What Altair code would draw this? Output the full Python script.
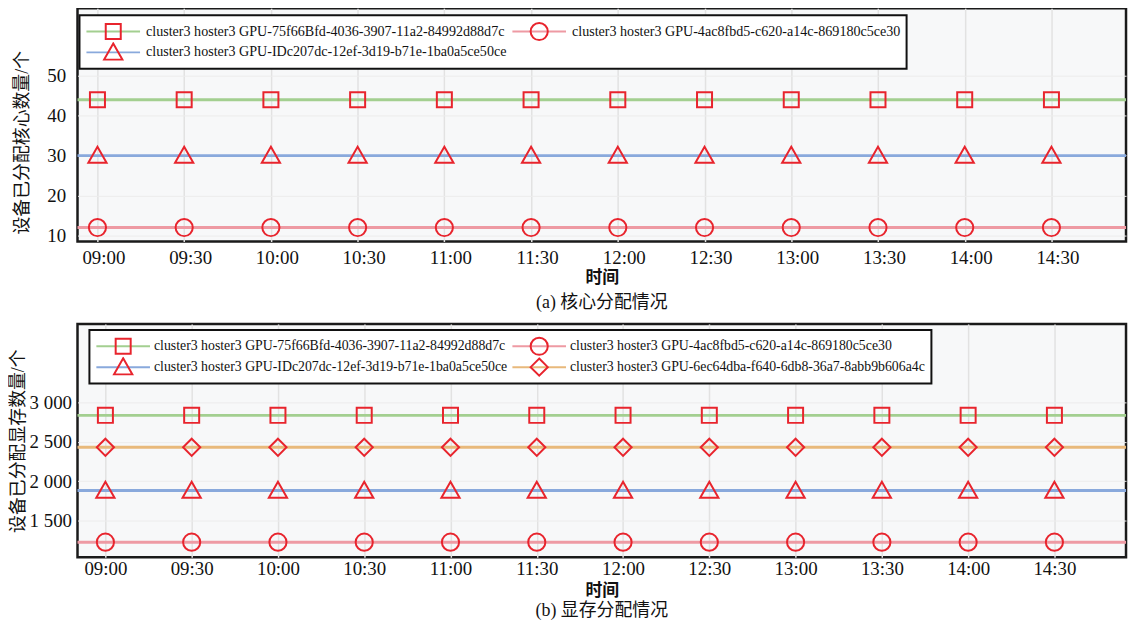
import altair as alt
import pandas as pd

# ---------------- data ----------------
times = ["09:00", "09:30", "10:00", "10:30", "11:00", "11:30",
         "12:00", "12:30", "13:00", "13:30", "14:00", "14:30"]

gpu_a = "cluster3 hoster3 GPU-75f66Bfd-4036-3907-11a2-84992d88d7c"
gpu_b = "cluster3 hoster3 GPU-4ac8fbd5-c620-a14c-869180c5ce30"
gpu_c = "cluster3 hoster3 GPU-IDc207dc-12ef-3d19-b71e-1ba0a5ce50ce"
gpu_d = "cluster3 hoster3 GPU-6ec64dba-f640-6db8-36a7-8abb9b606a4c"

# (a) cores
core_series = [gpu_a, gpu_b, gpu_c]
core_a = [44, 44, 44, 44, 44, 44, 44, 44, 44, 44, 44, 44]
core_b = [12, 12, 12, 12, 12, 12, 12, 12, 12, 12, 12, 12]
core_c = [30, 30, 30, 30, 30, 30, 30, 30, 30, 30, 30, 30]
core_ticks = [10, 20, 30, 40, 50]

# (b) memory
mem_series = [gpu_a, gpu_b, gpu_c, gpu_d]
mem_a = [2835, 2835, 2835, 2835, 2835, 2835, 2835, 2835, 2835, 2835, 2835, 2835]
mem_b = [1225, 1225, 1225, 1225, 1225, 1225, 1225, 1225, 1225, 1225, 1225, 1225]
mem_c = [1880, 1880, 1880, 1880, 1880, 1880, 1880, 1880, 1880, 1880, 1880, 1880]
mem_d = [2430, 2430, 2430, 2430, 2430, 2430, 2430, 2430, 2430, 2430, 2430, 2430]
mem_ticks = [1500, 2000, 2500, 3000]

# ---------------- styles ----------------
line_colors = {gpu_a: "#a3cf90", gpu_b: "#ee9aa3", gpu_c: "#89a9dc", gpu_d: "#e8b97b"}
marker_paths = {
    gpu_a: "M-0.28,-0.28H0.28V0.28H-0.28Z",
    gpu_b: "M-0.32,0A0.32,0.32,0,1,1,0.32,0A0.32,0.32,0,1,1,-0.32,0Z",
    gpu_c: "M0,-0.33L0.34,0.27L-0.34,0.27Z",
    gpu_d: "M0,-0.32L0.32,0L0,0.32L-0.32,0Z",
}
marker_red = "#e8242d"
SERIF = "Liberation Serif, Noto Sans CJK SC"
CJK = "Liberation Serif, Noto Sans CJK SC"
SYM = 2916

time_min = [int(t[:2]) * 60 + int(t[3:]) - 540 for t in times]
x_label_expr = ("pad(toString(9 + floor(datum.value / 60)), 2, '0', 'left') + ':' + "
                "pad(toString(datum.value % 60), 2, '0', 'left')")


def panel(series, values, y_domain, y_ticks, y_title, y_label_expr, x_domain,
          width, height, caption, caption_offset, legend_xy, legend_font, label_offset_legend,
          clip_h, x_label_pad, x_title_pad, x_label_offset, y_title_pad, y_label_pad, y_title_y):
    rows, rule_rows = [], []
    for k, (s, vals) in enumerate(zip(series, values)):
        rule_rows.append({"series": s, "value": vals[0], "order": k})
        for t, v in zip(time_min, vals):
            rows.append({"t": t, "value": v, "series_s": s, "order": k})
    pts = pd.DataFrame(rows)
    rls = pd.DataFrame(rule_rows)

    y_axis_kw = dict(
        values=y_ticks, labelExpr=y_label_expr, title=y_title,
        titleFont=CJK, titleFontSize=18, titleFontWeight="normal", titleColor="#111",
        titlePadding=y_title_pad,
        labelFont=SERIF, labelFontSize=19, labelColor="#111", labelPadding=y_label_pad,
        grid=True, gridColor="#ececec", gridWidth=1,
        domain=False, ticks=False, tickSize=0,
    )
    if y_title_y is not None:
        y_axis_kw["titleY"] = y_title_y
    y_enc = alt.Y(
        "value:Q",
        scale=alt.Scale(domain=y_domain, nice=False, zero=False),
        axis=alt.Axis(**y_axis_kw),
    )
    common_legend = dict(
        title=None, orient="none", legendX=legend_xy[0], legendY=legend_xy[1],
        columns=2, direction="horizontal", symbolSize=SYM, symbolStrokeWidth=2,
        labelFont="Liberation Serif", labelFontSize=legend_font, labelOffset=label_offset_legend,
        columnPadding=4, rowPadding=0, clipHeight=clip_h, padding=6,
        labelLimit=600,
    )
    rules = alt.Chart(rls).mark_rule(strokeWidth=3, opacity=1).encode(
        y=y_enc,
        color=alt.Color(
            "series:N",
            scale=alt.Scale(domain=series, range=[line_colors[s] for s in series]),
            legend=alt.Legend(symbolType="stroke", strokeColor="#111", fillColor="white",
                              labelColor="#111", zindex=1, **common_legend),
        ),
    )
    points = alt.Chart(pts).mark_point(
        filled=False, color=marker_red, strokeWidth=2, size=SYM, opacity=1
    ).encode(
        x=alt.X(
            "t:Q",
            scale=alt.Scale(domain=x_domain, nice=False, zero=False),
            axis=alt.Axis(
                values=time_min, labelExpr=x_label_expr, title="时间",
                titleFont=CJK, titleFontSize=17, titleFontWeight="bold", titleColor="#111",
                titlePadding=x_title_pad,
                labelFont=SERIF, labelFontSize=19, labelColor="#111",
                labelPadding=x_label_pad, labelOffset=x_label_offset, labelFlush=False,
                grid=True, gridColor="#e2e2e2", gridWidth=1.5,
                domain=False, ticks=False, tickSize=0,
            ),
        ),
        y=alt.Y("value:Q"),
        shape=alt.Shape(
            "series_s:N",
            sort=alt.EncodingSortField("order", op="min"),
            scale=alt.Scale(range=[marker_paths[s] for s in series]),
            legend=alt.Legend(symbolStrokeColor=marker_red, symbolFillColor="transparent",
                              labelColor="transparent", zindex=2, **common_legend),
        ),
    )
    return alt.layer(rules, points).properties(
        width=width, height=height,
        title=alt.TitleParams(caption, orient="bottom", font=CJK, fontSize=18,
                              fontWeight="normal", color="#111", offset=caption_offset),
    )


top = panel(core_series, [core_a, core_b, core_c], [8.5, 66.9], core_ticks,
            "设备已分配核心数量/个", "datum.value", [-6.9, 355.8], 1056, 235,
            "(a) 核心分配情况", 9, (2, 7), 14.2, 5, 21,
            x_label_pad=7, x_title_pad=2, x_label_offset=6, y_title_pad=15, y_label_pad=12,
            y_title_y=135)
bottom = panel(mem_series, [mem_a, mem_b, mem_c, mem_d], [1033, 3996], mem_ticks,
               "设备已分配显存数量/个", "replace(format(datum.value, ','), ',', ' ')",
               [-9.7, 354.9], 1056, 235,
               "(b) 显存分配情况", 4, (12, 6), 13.9, 3, 21,
               x_label_pad=2, x_title_pad=4, x_label_offset=0, y_title_pad=2, y_label_pad=6,
               y_title_y=None)

chart = alt.concat(top, bottom, columns=1, spacing=8).resolve_scale(
    color="independent", shape="independent", x="independent", y="independent"
).resolve_legend(color="independent", shape="independent").configure_view(
    stroke="#1a1a1a", strokeWidth=2.5, fill="#f7f8f9"
).configure_legend(strokeWidth=2).properties(
    background="white", padding={"top": -4, "left": 0, "right": 0, "bottom": 0}
)

chart.save("out.html", embed_options={"renderer": "svg", "actions": False})
